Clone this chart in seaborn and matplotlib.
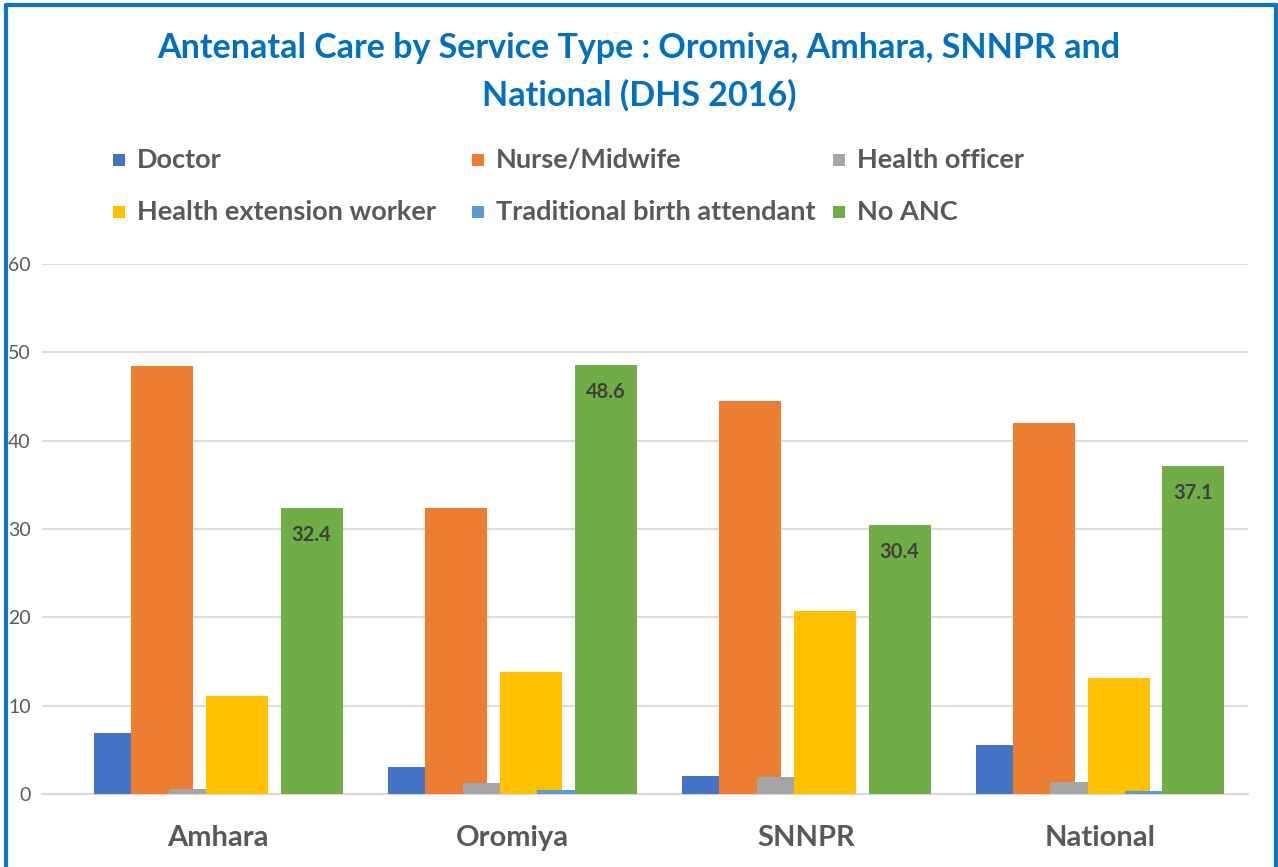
import numpy as np
import pandas as pd
import matplotlib
matplotlib.use("Agg")
import matplotlib.pyplot as plt
from matplotlib.patches import Rectangle
from matplotlib.lines import Line2D
import seaborn as sns

categories = ["Amhara", "Oromiya", "SNNPR", "National"]
series_names = ["Doctor", "Nurse/Midwife", "Health officer",
                "Health extension worker", "Traditional birth attendant", "No ANC"]
doctor = [6.9, 3.1, 2.0, 5.6]
nurse_midwife = [48.4, 32.4, 44.5, 42.0]
health_officer = [0.6, 1.3, 1.9, 1.4]
health_extension_worker = [11.1, 13.8, 20.7, 13.1]
traditional_birth_attendant = [0.0, 0.5, 0.0, 0.3]
no_anc = [32.4, 48.6, 30.4, 37.1]
yticks = [0, 10, 20, 30, 40, 50, 60]

values = [doctor, nurse_midwife, health_officer,
          health_extension_worker, traditional_birth_attendant, no_anc]
colors = ["#4472C4", "#ED7D31", "#A5A5A5", "#FFC000", "#5B9BD5", "#70AD47"]

sns.set_theme(style="white")
plt.rcParams["font.family"] = ["Lato", "DejaVu Sans"]

W, H = 1278, 867
fig = plt.figure(figsize=(W / 100, H / 100), dpi=100)
ax = fig.add_axes([42 / W, (H - 794) / H, (1248 - 42) / W, (794 - 264) / H])

bar_w = 0.211
step = 0.127
xpos = np.arange(len(categories))
for i, (name, vals) in enumerate(zip(series_names, values)):
    df = pd.DataFrame({"x": xpos + (i - 2.5) * step, "y": vals})
    sns.barplot(data=df, x="x", y="y", native_scale=True, width=bar_w,
                color=colors[i], saturation=1, ax=ax, zorder=3 + i, label=name,
                linewidth=0)

# data labels on No ANC
for xi, v in zip(xpos + 2.5 * step, no_anc):
    ax.annotate(f"{v:.1f}", (xi, v), xytext=(0, -27), textcoords="offset pixels",
                ha="center", va="center", fontsize=14.5, fontweight="bold",
                color="#404040", zorder=20)

ax.set_xlim(-0.6, 3.503)
ax.set_ylim(0, 60)
ax.set_yticks(yticks)
ax.set_yticklabels([str(t) for t in yticks])
ax.set_xticks(xpos)
ax.set_xticklabels(categories)
ax.tick_params(axis="y", length=0, pad=8, labelsize=14, labelcolor="#595959")
ax.tick_params(axis="x", length=0, pad=22, labelsize=21, labelcolor="#595959")
for lbl in ax.get_xticklabels():
    lbl.set_fontweight("bold")
ax.set_xlabel("")
ax.set_ylabel("")
ax.grid(axis="y", color="#D9D9D9", linewidth=1.3, zorder=0)
ax.set_axisbelow(True)
for s in ["top", "right", "left"]:
    ax.spines[s].set_visible(False)
ax.spines["bottom"].set_color("#D9D9D9")
ax.spines["bottom"].set_linewidth(1.5)
if ax.get_legend() is not None:
    ax.get_legend().remove()

# title
fig.text(0.5, (H - 48) / H, "Antenatal Care by Service Type : Oromiya, Amhara, SNNPR and",
         ha="center", va="center", fontsize=24.5, fontweight="bold", color="#0070C0")
fig.text(0.5, (H - 95) / H, "National (DHS 2016)",
         ha="center", va="center", fontsize=24.5, fontweight="bold", color="#0070C0")

# legend laid out like the original (row-wise, 3 columns)
col_x = [113, 472, 833]
row_y = [160, 212]
for i, name in enumerate(series_names):
    r, c = divmod(i, 3)
    x0, y0 = col_x[c], row_y[r]
    fig.add_artist(Rectangle((x0 / W, (H - y0 - 6) / H), 12 / W, 12 / H,
                             transform=fig.transFigure, facecolor=colors[i],
                             edgecolor="none"))
    fig.text((x0 + 24) / W, (H - y0) / H, name, ha="left", va="center",
             fontsize=19.5, fontweight="bold", color="#595959")

# outer blue frame (top, left, right)
frame_c = "#0E75C5"
fig.add_artist(Line2D([6 / W, 6 / W], [0, (H - 5) / H], transform=fig.transFigure,
                      color=frame_c, linewidth=3))
fig.add_artist(Line2D([6 / W, 1276 / W], [(H - 5) / H, (H - 5) / H],
                      transform=fig.transFigure, color=frame_c, linewidth=3))
fig.add_artist(Line2D([1276 / W, 1276 / W], [0, (H - 5) / H], transform=fig.transFigure,
                      color=frame_c, linewidth=3))

fig.savefig("out.png", dpi=100)
